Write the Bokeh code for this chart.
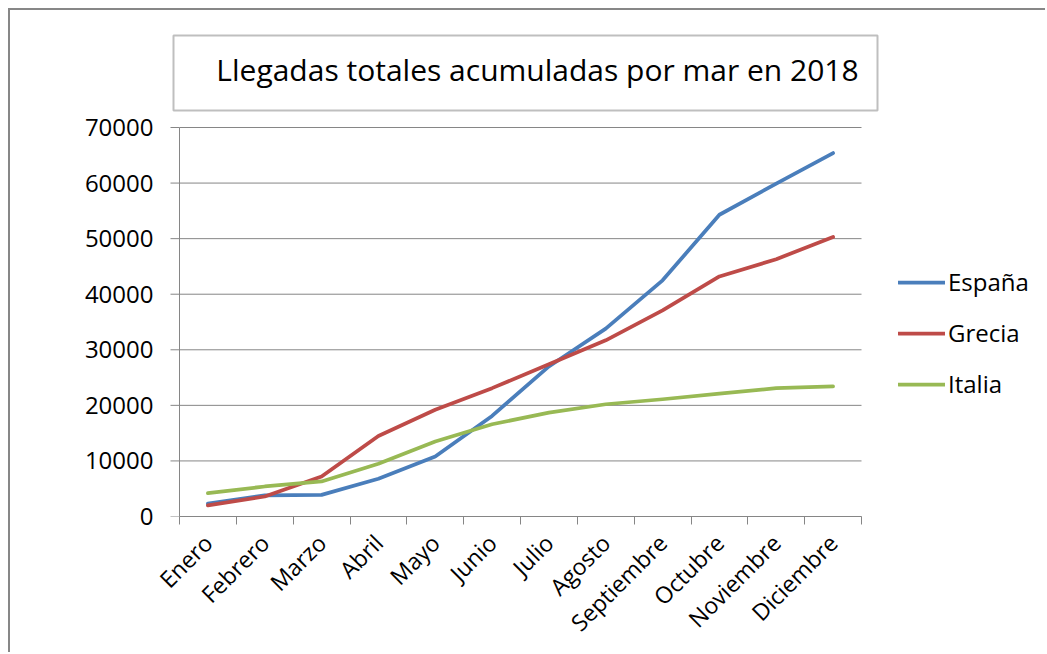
import math
from bokeh.plotting import figure
from bokeh.models import Range1d, LinearAxis, FixedTicker, Legend, LegendItem, ColumnDataSource
from bokeh.core.properties import value
from bokeh.embed import file_html
from bokeh.resources import INLINE

# ---- data ----
meses = ["Enero", "Febrero", "Marzo", "Abril", "Mayo", "Junio", "Julio",
         "Agosto", "Septiembre", "Octubre", "Noviembre", "Diciembre"]
espana = [2300, 3800, 3900, 6800, 10800, 18100, 27000, 33800, 42500, 54300, 59900, 65400]
grecia = [2000, 3600, 7200, 14500, 19200, 23100, 27400, 31700, 37100, 43200, 46300, 50300]
italia = [4200, 5400, 6300, 9500, 13500, 16600, 18700, 20200, 21100, 22100, 23100, 23400]
y_ticks = [0, 10000, 20000, 30000, 40000, 50000, 60000, 70000]
titulo = "Llegadas totales acumuladas por mar en 2018"
series = ["España", "Grecia", "Italia"]

FONT = "Open Sans"
GRID = "#868686"
COLORS = ["#4A7EBB", "#BE4B48", "#98B954"]

# ---- geometry (page pixels) ----
W, H = 1037, 644            # canvas size (page offset 10,10 incl. border)
ML, MB = 159, 138           # frame: page x 169..1047, page y 10..516
FW, FH = W - ML, H - MB
n = len(meses)
AX0, AXB = 179, 516         # page position of x=0 / y=0
y_top = max(y_ticks)
u = (861 - AX0) / n         # px per category
v = (AXB - 127) / y_top     # px per unit value


def px_x(px):
    return (px - AX0) / u


def px_y(py):
    return (AXB - py) / v


x_start = px_x(AX0 - 10)
x_end = x_start + FW / u

p = figure(width=W, height=H, output_backend="svg", toolbar_location=None,
           x_range=Range1d(x_start, x_end), y_range=Range1d(0, FH / v),
           x_axis_type=None, y_axis_type=None,
           min_border_left=ML, min_border_right=0, min_border_top=0, min_border_bottom=MB,
           styles={"margin-left": "8px", "margin-top": "8px",
                   "border-top": "2px solid #878787", "border-left": "2px solid #878787"})
p.outline_line_color = None
p.background_fill_color = "white"
p.border_fill_color = "white"

# x axis: labels at category centres, tick marks at category boundaries
centers = [i + 0.5 for i in range(n)]
xaxis = LinearAxis(ticker=FixedTicker(ticks=centers, minor_ticks=list(range(n + 1))),
                   major_label_overrides={c: m for c, m in zip(centers, meses)},
                   bounds=(0, n))
xaxis.major_tick_out = 0
xaxis.major_tick_in = 0
xaxis.minor_tick_out = 8
xaxis.minor_tick_in = 0
xaxis.minor_tick_line_color = GRID
xaxis.axis_line_color = GRID
xaxis.major_label_orientation = math.pi / 4
xaxis.major_label_standoff = 14
xaxis.major_label_text_font = FONT
xaxis.major_label_text_font_size = "23px"
xaxis.major_label_text_color = "black"
p.add_layout(xaxis, "below")

yaxis = LinearAxis(ticker=FixedTicker(ticks=y_ticks), bounds=(0, y_top))
yaxis.axis_line_color = None
yaxis.major_tick_out = 0
yaxis.major_tick_in = 0
yaxis.minor_tick_out = 0
yaxis.minor_tick_in = 0
yaxis.major_label_standoff = 16
yaxis.major_label_text_font = FONT
yaxis.major_label_text_font_size = "24px"
yaxis.major_label_text_color = "black"
p.add_layout(yaxis, "left")

# gridlines, y tick marks and y axis line (inside the frame, bounded to the plot area)
grid_src = ColumnDataSource(dict(y=y_ticks, x0=[0] * len(y_ticks), x1=[n] * len(y_ticks),
                                 t0=[px_x(AX0 - 9)] * len(y_ticks)))
p.segment(x0="x0", x1="x1", y0="y", y1="y", source=grid_src, line_color=GRID, line_width=1)
p.segment(x0="t0", x1="x0", y0="y", y1="y", source=grid_src, line_color=GRID, line_width=1)
p.segment(x0=[0], x1=[0], y0=[0], y1=[y_top], line_color=GRID, line_width=1)

# title box
p.quad(left=[px_x(173)], right=[px_x(877)], top=[px_y(35)], bottom=[px_y(110)],
       fill_color="white", line_color="#BFBFBF", line_width=2)
p.text(x=[px_x(537)], y=[px_y(69)], text=[titulo], text_align="center",
       text_baseline="alphabetic", text_font=value(FONT), text_font_size="30px",
       text_color="black")

renderers = []
for vals, col in zip([espana, grecia, italia], COLORS):
    renderers.append(p.line(centers, vals, line_color=col, line_width=3.75,
                            line_join="round", line_cap="round"))

legend = Legend(items=[LegendItem(label=s, renderers=[r]) for s, r in zip(series, renderers)],
                location=(898 - 169, 116), glyph_width=47, glyph_height=20,
                label_standoff=3, spacing=18, padding=0, margin=0, border_line_color=None,
                background_fill_alpha=0, label_text_font=FONT, label_text_font_size="24px",
                label_text_color="black")
p.add_layout(legend, "center")

open("out.html", "w").write(file_html(p, INLINE))
